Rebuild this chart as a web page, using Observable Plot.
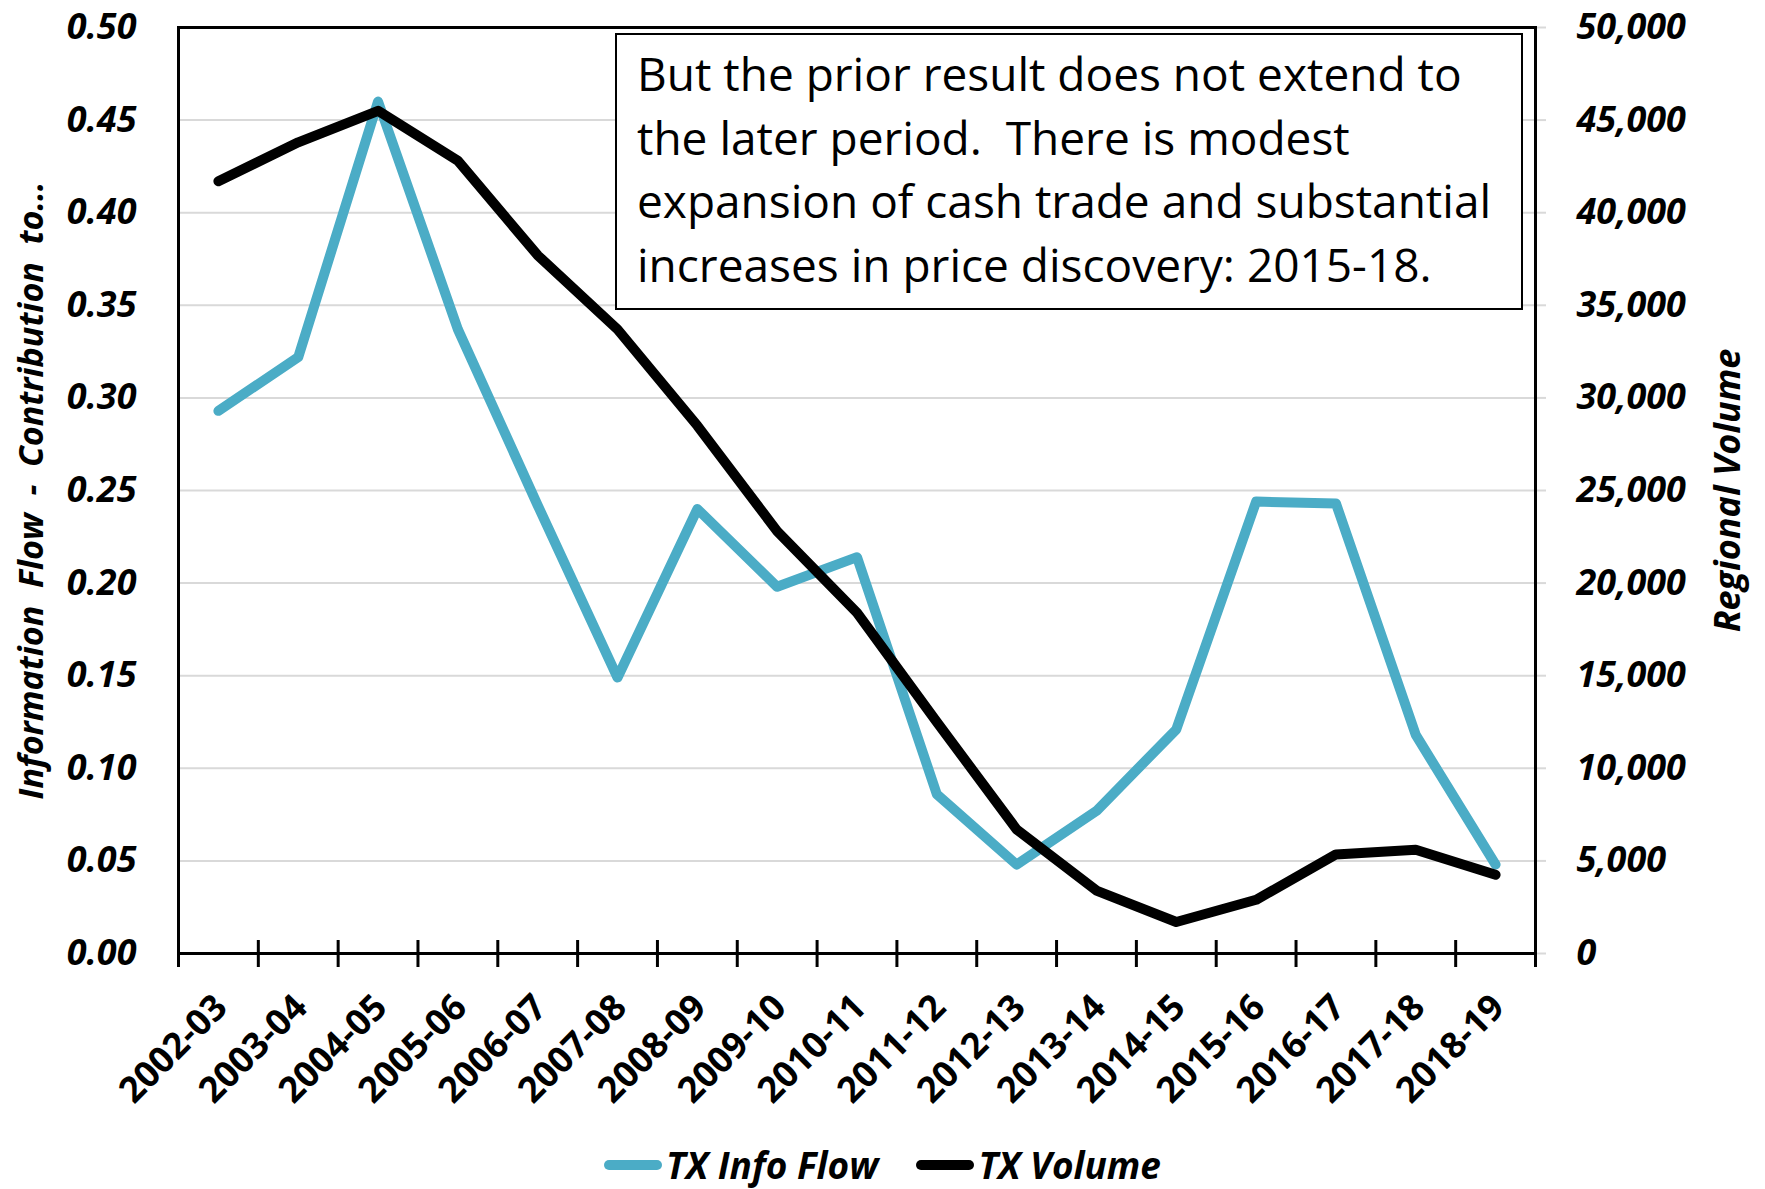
<!DOCTYPE html>
<html>
<head>
<meta charset="utf-8">
<script src="https://cdn.jsdelivr.net/npm/d3@7"></script>
<script src="https://cdn.jsdelivr.net/npm/@observablehq/plot@0.6"></script>
<style>
  body { margin: 0; background: #fff; }
  #wrap { position: relative; width: 1765px; height: 1189px; font-family: "Open Sans", sans-serif; overflow: hidden; }
  #note {
    position: absolute; left: 615px; top: 33px;
    border: 2px solid #000; background: #fff;
    font-size: 46px; line-height: 63.5px; color: #000;
    padding: 7px 0 0 20px; white-space: pre; box-sizing: border-box;
    width: 908px; height: 277px;
  }
  #legend {
    display: flex; justify-content: center; align-items: center;
    margin-top: 18px; height: 44px; line-height: 44px;
    font-weight: bold; font-style: italic; font-size: 37px;
  }
  .item { display: flex; align-items: center; margin: 0 19px; height: 44px; }
  .sw { width: 58px; height: 10px; border-radius: 5px; margin-right: 4px; }
</style>
</head>
<body>
<div id="wrap">
  <div id="chart"></div>
  <div id="legend"></div>
  <div id="note"></div>
</div>
<script>
// Marketing years on the x axis
const seasons = ["2002-03", "2003-04", "2004-05", "2005-06", "2006-07", "2007-08", "2008-09",
  "2009-10", "2010-11", "2011-12", "2012-13", "2013-14", "2014-15", "2015-16", "2016-17",
  "2017-18", "2018-19"];

// TX information flow (contribution to price discovery), left axis
const infoFlow = [0.293, 0.322, 0.460, 0.337, 0.242, 0.149, 0.240, 0.198, 0.214, 0.086,
  0.048, 0.077, 0.121, 0.244, 0.243, 0.118, 0.048];

// TX regional cash volume, right axis
const volume = [41700, 43800, 45500, 42800, 37700, 33700, 28500, 22800, 18400, 12500,
  6700, 3400, 1700, 2900, 5350, 5600, 4250];

// Axis ticks
const leftTicks = [0, 0.05, 0.10, 0.15, 0.20, 0.25, 0.30, 0.35, 0.40, 0.45, 0.50];
const rightTicks = [0, 5000, 10000, 15000, 20000, 25000, 30000, 35000, 40000, 45000, 50000];

const leftTitle = "Information  Flow  -  Contribution  to...";
const rightTitle = "Regional Volume";
const seriesNames = ["TX Info Flow", "TX Volume"];
const note = "But the prior result does not extend to\nthe later period.  There is modest\nexpansion of cash trade and substantial\nincreases in price discovery: 2015-18.";

const BLUE = "#4bacc6";
const BLACK = "#000000";
// right axis units per left axis unit (50,000 volume ↔ 0.50 info flow)
const VOL_SCALE = 100000;

const rows = seasons.map((s, i) => ({season: s, idx: i, info: infoFlow[i], vol: volume[i]}));
const boundaries = d3.range(seasons.length + 1);
const gridTicks = leftTicks.filter(t => t > 0 && t < 0.5);

const axisFont = {fontSize: 36, fontWeight: "bold", fontStyle: "italic"};
const titleFont = {fontWeight: "bold", fontStyle: "italic"};

const chart = Plot.plot({
  width: 1765,
  height: 1125,
  marginLeft: 178,
  marginRight: 230,
  marginTop: 27,
  marginBottom: 172,
  style: {fontFamily: "'Open Sans', sans-serif", color: "#000", background: "#fff", overflow: "visible"},
  x: {domain: [0, seasons.length], axis: null},
  y: {domain: [0, 0.5], axis: null},
  marks: [
    Plot.ruleY(gridTicks, {stroke: "#d9d9d9", strokeWidth: 2}),
    Plot.axisY({anchor: "left", ticks: leftTicks, tickFormat: d => d.toFixed(2), tickSize: 0,
      tickPadding: 42, label: null, ...axisFont}),
    Plot.axisY({anchor: "right", ticks: rightTicks.map(v => v / VOL_SCALE),
      tickFormat: d => d3.format(",")(Math.round(d * VOL_SCALE)), tickSize: 10, stroke: "#d9d9d9",
      strokeWidth: 2, fill: "#000", tickPadding: 31, label: null, ...axisFont}),
    Plot.frame({stroke: "#000", strokeWidth: 3}),
    // category boundary ticks crossing the x axis
    Plot.ruleX(boundaries, {x: d => d, y1: 0, y2: 0, insetTop: -13, insetBottom: -14, stroke: "#000", strokeWidth: 3}),
    Plot.text(rows, {x: d => d.idx + 0.5, frameAnchor: "bottom", text: "season", rotate: -45,
      textAnchor: "end", dx: 11, dy: 56, fontSize: 36, fontWeight: "bold"}),
    Plot.text([leftTitle], {frameAnchor: "left", textAnchor: "middle", text: d => d, rotate: -90,
      dx: -146, fontSize: 34, ...titleFont}),
    Plot.text([rightTitle], {frameAnchor: "right", textAnchor: "middle", text: d => d, rotate: -90,
      dx: 193, fontSize: 36, ...titleFont}),
    Plot.line(rows, {x: d => d.idx + 0.5, y: "info", stroke: BLUE, strokeWidth: 10,
      strokeLinejoin: "round", strokeLinecap: "round"}),
    Plot.line(rows, {x: d => d.idx + 0.5, y: d => d.vol / VOL_SCALE, stroke: BLACK, strokeWidth: 10,
      strokeLinejoin: "round", strokeLinecap: "round"})
  ]
});
chart.querySelectorAll("text").forEach(t => t.setAttribute("xml:space", "preserve"));
chart.style.whiteSpace = "pre";
chart.style.display = "block";
document.getElementById("chart").appendChild(chart);

document.getElementById("note").textContent = note;

const legend = d3.select("#legend");
[[seriesNames[0], BLUE], [seriesNames[1], BLACK]].forEach(([name, color]) => {
  const item = legend.append("div").attr("class", "item");
  item.append("div").attr("class", "sw").style("background", color);
  item.append("span").text(name);
});
</script>
</body>
</html>
